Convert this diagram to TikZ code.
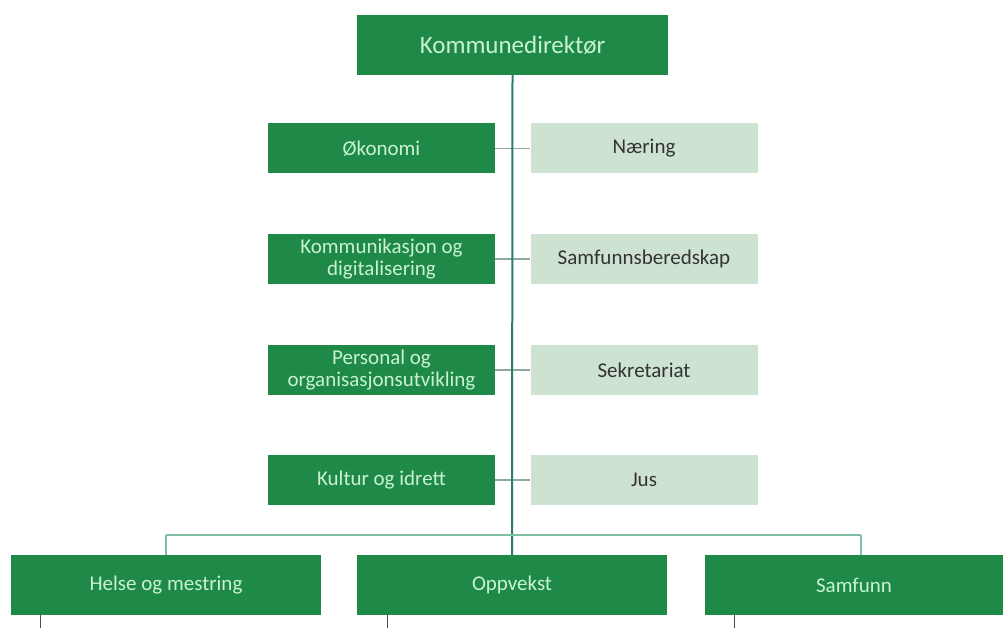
\documentclass[tikz,border=0pt]{standalone}
\usepackage{fontspec}
\setmainfont{Carlito}
\definecolor{dkgreen}{HTML}{1F8A47}
\definecolor{lttext}{HTML}{C8F2D2}
\definecolor{ltbox}{HTML}{CDE2D0}
\definecolor{trunk}{HTML}{2A7A78}
\definecolor{bus}{HTML}{7DBFA0}
\definecolor{stub}{HTML}{8FA8A0}
\begin{document}
\begin{tikzpicture}[x=1pt,y=-1pt,
  darkbox/.style={fill=dkgreen, draw=none, text=lttext, align=center, inner sep=0pt, font=\fontsize{21}{22.5}\selectfont},
  lightbox/.style={fill=ltbox, draw=none, text=black!80, align=center, inner sep=0pt, font=\fontsize{21}{22.5}\selectfont},
  sidebox/.style={minimum width=227pt, minimum height=50pt},
  mainbox/.style={minimum height=60pt},
  trunkline/.style={draw=trunk, line width=2pt},
  busline/.style={draw=bus, line width=1.6pt},
  stubline/.style={draw=stub, line width=1.4pt},
  tail/.style={draw=black!70, line width=1pt}]
\useasboundingbox (0,0) rectangle (1003,628);
\node[darkbox, minimum width=311pt, minimum height=60pt, font=\fontsize{25}{26}\selectfont] (kd) at (512.5,45) {Kommunedirektør};
\node[darkbox, sidebox] (oko) at (381.5,148.5) {Økonomi};
\node[lightbox, sidebox] (nar) at (644,148.5) {Næring};
\node[darkbox, sidebox] (kom) at (381.5,259) {Kommunikasjon og\\digitalisering};
\node[lightbox, sidebox] (sam) at (644,259) {Samfunnsberedskap};
\node[darkbox, sidebox] (per) at (381.5,370) {Personal og\\organisasjonsutvikling};
\node[lightbox, sidebox] (sek) at (644,370) {Sekretariat};
\node[darkbox, sidebox] (kul) at (381.5,480) {Kultur og idrett};
\node[lightbox, sidebox] (jus) at (644,480) {Jus};
\node[darkbox, mainbox, minimum width=310pt] (hel) at (166,585) {Helse og mestring};
\node[darkbox, mainbox, minimum width=310pt] (opp) at (512,585) {Oppvekst};
\node[darkbox, mainbox, minimum width=298pt] (sfn) at (854,585) {Samfunn};
% side connectors
\foreach \a/\b in {oko/nar,kom/sam,per/sek,kul/jus}{
  \path[stubline] (\a.east) -- (\b.west);
}
% trunk
\path[trunkline] (kd.south) -- (opp.north);
% bus
\coordinate (bl) at (166,535);
\coordinate (br) at (861,535);
\path[busline] (bl) -- (br);
\path[busline] (bl) -- (bl |- hel.north);
\path[busline] (br) -- (br |- sfn.north);
% tails
\coordinate (t1) at (40,628);
\coordinate (t2) at (387,628);
\coordinate (t3) at (734,628);
\path[tail] (t1 |- hel.south) -- (t1);
\path[tail] (t2 |- opp.south) -- (t2);
\path[tail] (t3 |- sfn.south) -- (t3);
\end{tikzpicture}
\end{document}
